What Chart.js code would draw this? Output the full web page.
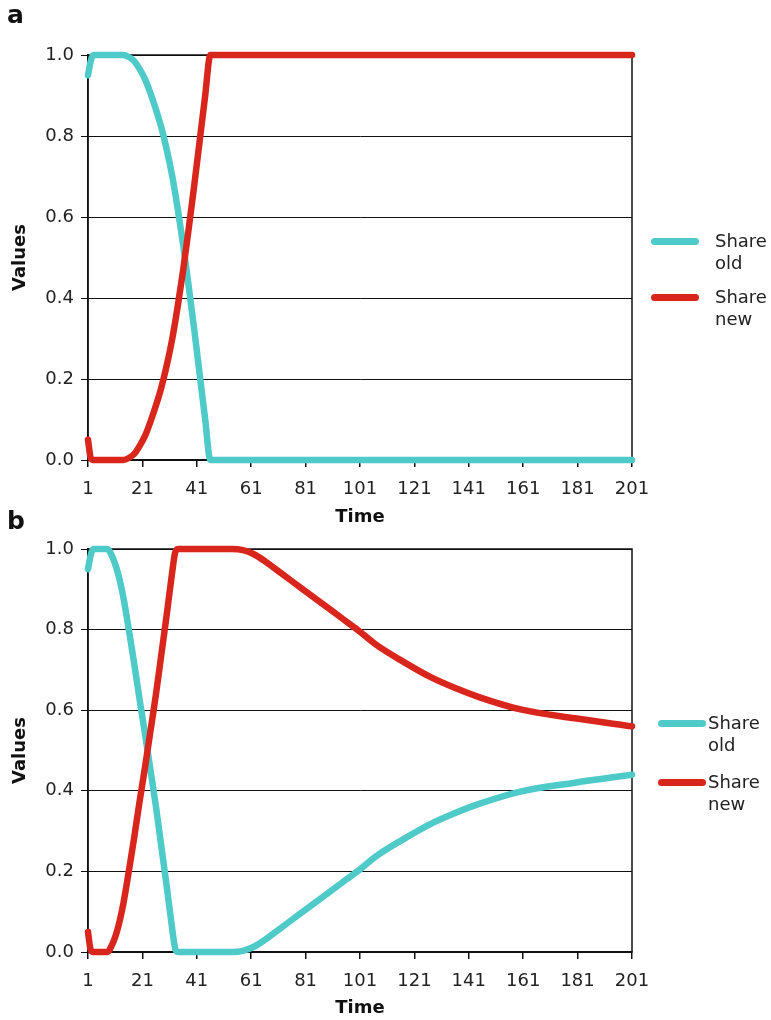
<!DOCTYPE html>
<html>
<head>
<meta charset="utf-8">
<script src="https://cdn.jsdelivr.net/npm/chart.js@4.4.1/dist/chart.umd.min.js"></script>
<style>
  body { margin: 0; background: #fff; font-family: "DejaVu Sans", sans-serif; }
  .panel { position: absolute; left: 0; width: 771px; }
  .tag { position: absolute; left: 7px; font-weight: bold; font-size: 25px; color: #111; }
  .leg { position: absolute; font-size: 18px; line-height: 22px; color: #222; }
  .swatch { position: absolute; height: 7px; border-radius: 4px; }
</style>
</head>
<body>
<div class="panel" style="top:0;height:535px"><canvas id="chartA" width="771" height="535"></canvas></div>
<div class="panel" style="top:500px;height:520px"><canvas id="chartB" width="771" height="520"></canvas></div>

<div class="tag" style="top:0px">a</div>
<div class="tag" style="top:506px">b</div>

<!-- legend a -->
<div class="swatch" style="left:651px;top:238px;width:48px;background:#4ecac8"></div>
<div class="leg" style="left:715px;top:230px">Share<br>old</div>
<div class="swatch" style="left:651px;top:294px;width:48px;background:#d9261c"></div>
<div class="leg" style="left:715px;top:286px">Share<br>new</div>

<!-- legend b -->
<div class="swatch" style="left:658px;top:720px;width:48px;background:#4ecac8"></div>
<div class="leg" style="left:708px;top:712px">Share<br>old</div>
<div class="swatch" style="left:658px;top:779px;width:48px;background:#d9261c"></div>
<div class="leg" style="left:708px;top:771px">Share<br>new</div>

<script>
document.addEventListener('DOMContentLoaded', function() {

// Panel a
const timeA = [1, 2, 3, 14, 16, 18, 20, 22, 24, 26, 28, 30, 32, 34, 36, 38, 40, 42, 44, 46, 201];
const oldA = [0.95, 0.985, 1, 1, 0.995, 0.985, 0.965, 0.94, 0.905, 0.865, 0.82, 0.765, 0.7, 0.62, 0.53, 0.43, 0.325, 0.215, 0.105, 0, 0];
const newA = [0.05, 0.005, 0, 0, 0.005, 0.015, 0.035, 0.06, 0.095, 0.135, 0.18, 0.235, 0.3, 0.38, 0.47, 0.57, 0.675, 0.785, 0.895, 1, 1];

// Panel b
const timeB = [1, 2, 3, 8, 10, 12, 14, 16, 18, 20, 22, 24, 26, 28, 30, 32, 33, 34, 54, 58, 62, 66, 72, 80, 87, 94, 100, 107, 117, 127, 136, 145, 160, 180, 201];
const oldB = [0.95, 0.985, 1, 1, 0.98, 0.94, 0.88, 0.8, 0.715, 0.625, 0.54, 0.45, 0.36, 0.26, 0.16, 0.055, 0.01, 0, 0, 0.003, 0.013, 0.03, 0.06, 0.1, 0.135, 0.17, 0.2, 0.238, 0.28, 0.318, 0.345, 0.368, 0.398, 0.42, 0.44];
const newB = [0.05, 0.005, 0, 0, 0.02, 0.06, 0.12, 0.2, 0.285, 0.375, 0.46, 0.55, 0.64, 0.74, 0.84, 0.945, 0.99, 1, 1, 0.997, 0.987, 0.97, 0.94, 0.9, 0.865, 0.83, 0.8, 0.762, 0.72, 0.682, 0.655, 0.632, 0.602, 0.58, 0.56];

const timeTicks = [1, 21, 41, 61, 81, 101, 121, 141, 161, 181, 201];
const seriesNames = ['Share old', 'Share new'];

const FONT = '"DejaVu Sans", Verdana, sans-serif';

// box round the plot area (Excel style)
const frame = {
    id: 'frame',
    beforeDatasetsDraw(chart) {
        const a = chart.chartArea;
        const ctx = chart.ctx;
        ctx.save();
        ctx.strokeStyle = '#111';
        ctx.lineWidth = 1.5;
        ctx.strokeRect(a.left, a.top, a.right - a.left, a.bottom - a.top);
        ctx.restore();
    }
};

function makeChart(id, time, oldVals, newVals, padTop, axisH, titlePad) {
    const ctx = document.getElementById(id).getContext('2d');
    return new Chart(ctx, {
        type: 'line',
        data: {
            datasets: [{
                label: seriesNames[0],
                data: time.map((t, i) => ({ x: t, y: oldVals[i] })),
                borderColor: '#4ecac8',
                borderWidth: 6.5,
                order: 1
            }, {
                label: seriesNames[1],
                data: time.map((t, i) => ({ x: t, y: newVals[i] })),
                borderColor: '#d9261c',
                borderWidth: 6.5,
                order: 0
            }]
        },
        options: {
            responsive: false,
            animation: false,
            layout: { padding: { top: padTop, right: 139, left: 0, bottom: 0 } },
            datasets: {
                line: {
                    pointRadius: 0,
                    cubicInterpolationMode: 'monotone',
                    borderCapStyle: 'round',
                    borderJoinStyle: 'round',
                    clip: 8
                }
            },
            plugins: { legend: { display: false }, tooltip: { enabled: false } },
            scales: {
                x: {
                    type: 'linear',
                    min: 1,
                    max: 201,
                    afterBuildTicks: axis => { axis.ticks = timeTicks.map(v => ({ value: v })); },
                    afterFit: s => { s.height = axisH; },
                    grid: { drawOnChartArea: false, color: '#111', tickLength: 7, lineWidth: 1.5 },
                    border: { color: '#111', width: 1.5 },
                    ticks: { color: '#222', font: { family: FONT, size: 18 }, padding: 12, maxRotation: 0, autoSkip: false },
                    title: { display: true, text: 'Time', color: '#111', font: { family: FONT, size: 18, weight: 'bold' }, padding: { top: 0, bottom: titlePad } }
                },
                y: {
                    min: 0,
                    max: 1,
                    afterFit: s => { s.width = 88; },
                    grid: { color: '#111', tickLength: 7, lineWidth: 1 },
                    border: { color: '#111', width: 1.5 },
                    ticks: { stepSize: 0.2, color: '#222', font: { family: FONT, size: 18 }, padding: 7, callback: v => v.toFixed(1) },
                    title: { display: true, text: 'Values', color: '#111', font: { family: FONT, size: 18, weight: 'bold' }, padding: { top: 10, bottom: 0 } }
                }
            }
        },
        plugins: [frame]
    });
}

makeChart('chartA', timeA, oldA, newA, 55, 75, 7);
makeChart('chartB', timeB, oldB, newB, 49, 68, 1);
});
</script>
</body>
</html>
